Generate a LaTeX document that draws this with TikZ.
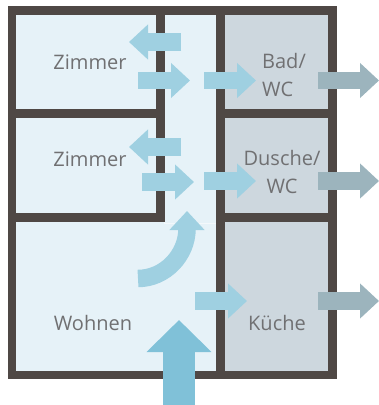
\documentclass[tikz,border=0pt]{standalone}
\usepackage{fontspec}
\setmainfont{Open Sans}
\usetikzlibrary{arrows.meta}
\definecolor{wall}{HTML}{4F4845}
\definecolor{dryfill}{HTML}{E6F2F8}
\definecolor{wetfill}{HTML}{CDD7DE}
\definecolor{roomedge}{HTML}{F3F8FB}
\definecolor{supply}{HTML}{9FD0E1}
\definecolor{inlet}{HTML}{80C1D8}
\definecolor{extract}{HTML}{9CB4BD}
\definecolor{labelgray}{HTML}{707072}

\begin{document}
\begin{tikzpicture}[
  x=1pt, y=-1pt,
  every node/.style={font=\fontsize{20}{28}\selectfont, text=labelgray},
  room/.style={
    draw=roomedge, line width=1pt, fill=dryfill,
    anchor=north west, inner sep=0pt, outer sep=0pt
  },
  wetroom/.style={room, fill=wetfill},
  walls/.style={draw=wall, line width=8.8pt, line cap=butt, line join=miter},
  flow/.style={
    draw=supply, line width=17.5pt,
    -{Triangle[length=19pt, width=34pt]}
  },
  outflow/.style={flow, draw=extract},
  bigflow/.style={
    draw=inlet, line width=32pt,
    -{Triangle[length=32pt, width=63pt]}
  }
]
\useasboundingbox (0,0) rectangle (379,405);

% rooms
\node[room, minimum width=142pt, minimum height=97pt] (zimmerA) at (15,13) {};
\node[room, minimum width=142pt, minimum height=98pt] (zimmerB) at (15,117) {};
\node[room, minimum width=203pt, minimum height=150pt] (wohnen) at (15,221) {};
\node[room, minimum width=52pt, minimum height=210pt] (flur) at (164,13) {};
\node[wetroom, minimum width=105pt, minimum height=97pt] (bad) at (224,13) {};
\node[wetroom, minimum width=105pt, minimum height=98pt] (dusche) at (224,117) {};
\node[wetroom, minimum width=105pt, minimum height=150pt] (kueche) at (224,221) {};

% walls
\draw[walls] (12,10.5) rectangle (332.5,375);
\draw[walls] (160.5,10.5) -- (160.5,222);
\draw[walls] (12,113.5) -- (160.5,113.5);
\draw[walls] (12,217.5) -- (165,217.5);
\draw[walls] (220.5,10.5) -- (220.5,375);
\draw[walls] (220.5,113.5) -- (332.5,113.5);
\draw[walls] (220.5,217.5) -- (332.5,217.5);

% labels
\node (lblzimmerA) at (90,62) {Zimmer};
\node (lblzimmerB) at (90,159) {Zimmer};
\node (lblwohnen) at (93,323) {Wohnen};
\node[align=left] (lblbad) at (284,75) {Bad/\\WC};
\node[align=center] (lbldusche) at (282,172) {Dusche/\\WC};
\node (lblkueche) at (277,323) {Küche};

% air flow
\coordinate (backA) at (181,42);
\coordinate (backAend) at (129,42);
\coordinate (backB) at (181,147);
\coordinate (backBend) at (129,147);
\coordinate (leaveA) at (138,80.5);
\coordinate (leaveAend) at (190,80.5);
\coordinate (leaveB) at (142,182);
\coordinate (leaveBend) at (194,182);
\coordinate (wetA) at (204,80.5);
\coordinate (wetAend) at (256,80.5);
\coordinate (wetB) at (204,181);
\coordinate (wetBend) at (256,181);
\coordinate (wetC) at (195,301);
\coordinate (wetCend) at (247,301);
\coordinate (outA) at (318,80.5);
\coordinate (outAend) at (379,80.5);
\coordinate (outB) at (318,181);
\coordinate (outBend) at (379,181);
\coordinate (outC) at (318,301);
\coordinate (outCend) at (379,301);
\coordinate (turn) at (138,278.5);
\coordinate (turnend) at (187,211);
\coordinate (door) at (179,405);
\coordinate (doorend) at (179,320);

\draw[flow] (backA) -- (backAend);
\draw[flow] (backB) -- (backBend);
\draw[flow] (leaveA) -- (leaveAend);
\draw[flow] (leaveB) -- (leaveBend);
\draw[flow] (wetA) -- (wetAend);
\draw[flow] (wetB) -- (wetBend);
\draw[flow] (wetC) -- (wetCend);
\draw[flow] (turn) .. controls (165,278.5) and (187,255) .. (turnend);
\draw[outflow] (outA) -- (outAend);
\draw[outflow] (outB) -- (outBend);
\draw[outflow] (outC) -- (outCend);
\draw[bigflow] (door) -- (doorend);

\end{tikzpicture}
\end{document}
